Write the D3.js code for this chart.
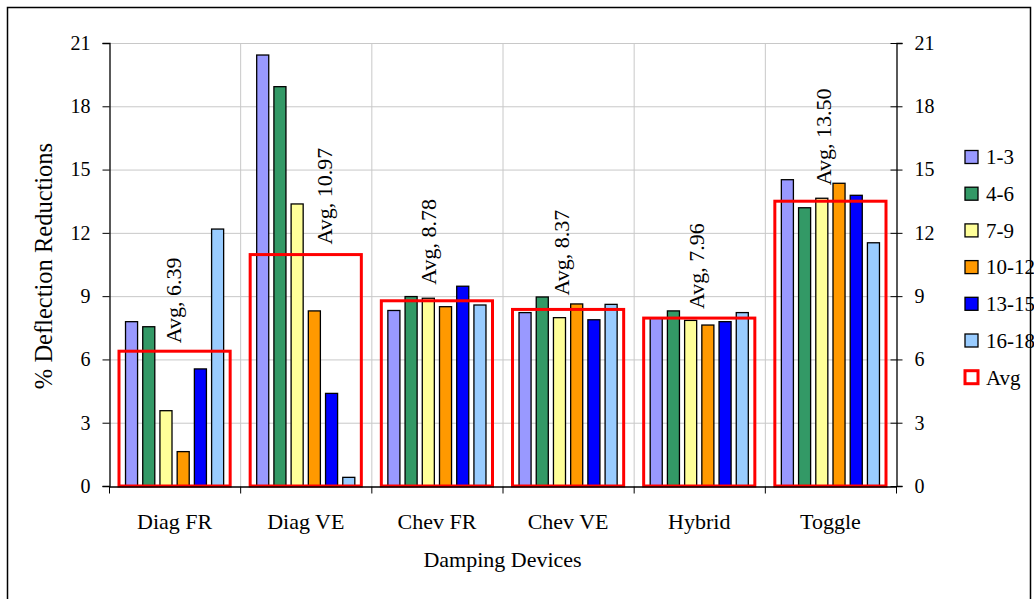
<!DOCTYPE html>
<html>
<head>
<meta charset="utf-8">
<script src="https://cdn.jsdelivr.net/npm/d3@7"></script>
<style>
  html, body { margin: 0; padding: 0; background: #fff; }
  svg { display: block; font-family: "Liberation Serif", "Times New Roman", serif; }
</style>
</head>
<body>
<svg id="chart" width="1034" height="599"></svg>
<script>
// ---- data ----
const categories = ["Diag FR", "Diag VE", "Chev FR", "Chev VE", "Hybrid", "Toggle"];
const seriesNames = ["1-3", "4-6", "7-9", "10-12", "13-15", "16-18"];
const s1_3   = [7.79, 20.43, 8.32, 8.22, 7.97, 14.52];
const s4_6   = [7.55, 18.93, 8.98, 8.96, 8.30, 13.19];
const s7_9   = [3.57, 13.37, 8.90, 7.98, 7.85, 13.64];
const s10_12 = [1.63, 8.30, 8.50, 8.63, 7.63, 14.35];
const s13_15 = [5.55, 4.39, 9.47, 7.88, 7.79, 13.78];
const s16_18 = [12.18, 0.41, 8.58, 8.61, 8.22, 11.53];
const avgValues = [6.39, 10.97, 8.78, 8.37, 7.96, 13.50];
const yTicks = [0, 3, 6, 9, 12, 15, 18, 21];

// ---- styling / layout ----
const seriesColors = ["#9999FF", "#339966", "#FFFF99", "#FF9900", "#0000FF", "#99CCFF"];
const allSeries = [s1_3, s4_6, s7_9, s10_12, s13_15, s16_18];
// label nudges (pixels) for the rotated "Avg" labels: [dx, gap above box]
const avgLabelNudge = [[-1, 8], [19, 10], [-8, 16], [-7, 14], [-3, 9], [-7, 16]];

const svg = d3.select("#chart");
const plot = { left: 109, right: 896, top: 43, bottom: 486 };

// outer frame
svg.append("rect")
  .attr("x", 7.5).attr("y", 7.5).attr("width", 1023).attr("height", 700)
  .attr("fill", "none").attr("stroke", "#000").attr("stroke-width", 1.5);

const x = d3.scaleBand().domain(categories).range([plot.left, plot.right]).padding(0);
const xs = d3.scaleBand().domain(seriesNames).range([0, x.bandwidth()])
  .paddingInner(0.3).paddingOuter(0.96);
const y = d3.scaleLinear().domain([0, 21]).range([plot.bottom, plot.top]);

// gridlines
const grid = svg.append("g");
grid.selectAll("line.h").data(yTicks.filter(t => t > 0)).join("line")
  .attr("x1", plot.left).attr("x2", plot.right)
  .attr("y1", d => y(d) + 0.5).attr("y2", d => y(d) + 0.5)
  .attr("stroke", "#c8c8c8").attr("stroke-width", 1);
grid.selectAll("line.v").data(categories.slice(1)).join("line")
  .attr("x1", d => x(d) + 0.5).attr("x2", d => x(d) + 0.5)
  .attr("y1", plot.top).attr("y2", plot.bottom)
  .attr("stroke", "#c8c8c8").attr("stroke-width", 1);

// bars
const barRows = [];
categories.forEach((c, ci) => {
  seriesNames.forEach((s, si) => barRows.push({ c, s, si, v: allSeries[si][ci] }));
});
svg.append("g").selectAll("rect").data(barRows).join("rect")
  .attr("x", d => x(d.c) + xs(d.s))
  .attr("y", d => y(d.v))
  .attr("width", xs.bandwidth())
  .attr("height", d => y(0) - y(d.v))
  .attr("fill", d => seriesColors[d.si])
  .attr("stroke", "#000").attr("stroke-width", 1.3);

// avg boxes
const inset = 10;
svg.append("g").selectAll("rect").data(categories).join("rect")
  .attr("x", d => x(d) + inset)
  .attr("y", (d, i) => y(avgValues[i]))
  .attr("width", x.bandwidth() - 2 * inset)
  .attr("height", (d, i) => y(0) - y(avgValues[i]))
  .attr("fill", "none").attr("stroke", "#FF0000").attr("stroke-width", 3);

// avg labels
svg.append("g").selectAll("text").data(categories).join("text")
  .attr("transform", (d, i) => {
    const cx = x(d) + x.bandwidth() / 2 + avgLabelNudge[i][0];
    const cy = y(avgValues[i]) - avgLabelNudge[i][1];
    return `translate(${cx},${cy}) rotate(-90)`;
  })
  .attr("dy", "0.34em")
  .attr("text-anchor", "start")
  .attr("font-size", 22)
  .attr("fill", "#000")
  .text((d, i) => `Avg, ${avgValues[i].toFixed(2)}`);

// axes
const yAxisL = d3.axisLeft(y).tickValues(yTicks).tickSize(7).tickPadding(12).tickFormat(d3.format("d"));
const gL = svg.append("g").attr("transform", `translate(${plot.left + 0.5},0)`).call(yAxisL);
const yAxisR = d3.axisRight(y).tickValues(yTicks).tickSize(6).tickPadding(12).tickFormat(d3.format("d"));
const gR = svg.append("g").attr("transform", `translate(${plot.right + 0.5},0)`).call(yAxisR);
gR.selectAll(".tick line").attr("x1", -6);
[gL, gR].forEach(g => {
  g.select(".domain").attr("stroke", "#000").attr("stroke-width", 1.3);
  g.selectAll(".tick line").attr("stroke", "#000");
  g.selectAll(".tick text").attr("font-size", 20).attr("font-family", "Liberation Serif").attr("fill", "#000");
});

const xAxis = d3.axisBottom(x).tickSize(0).tickPadding(0);
const gX = svg.append("g").attr("transform", `translate(0,${plot.bottom + 0.5})`).call(xAxis);
gX.select(".domain").attr("stroke", "#000").attr("stroke-width", 1.3);
gX.selectAll(".tick text").attr("font-size", 22).attr("font-family", "Liberation Serif")
  .attr("fill", "#000").attr("dy", null).attr("y", 42);
// category boundary ticks
gX.selectAll("line.bound").data(categories.concat(["__end"])).join("line")
  .attr("class", "bound")
  .attr("x1", (d, i) => (i < categories.length ? x(d) : plot.right) + 0.5)
  .attr("x2", (d, i) => (i < categories.length ? x(d) : plot.right) + 0.5)
  .attr("y1", 0).attr("y2", 7)
  .attr("stroke", "#000").attr("stroke-width", 1);

// axis titles
svg.append("text")
  .attr("x", (plot.left + plot.right) / 2).attr("y", 567)
  .attr("text-anchor", "middle").attr("font-size", 22).attr("fill", "#000")
  .text("Damping Devices");
svg.append("text")
  .attr("transform", `translate(52,266) rotate(-90)`)
  .attr("text-anchor", "middle").attr("font-size", 24.5).attr("fill", "#000")
  .text("% Deflection Reductions");

// legend
const legendItems = seriesNames.map((s, i) => ({ name: s, color: seriesColors[i], avg: false }))
  .concat([{ name: "Avg", color: "none", avg: true }]);
const lg = svg.append("g").attr("transform", "translate(965,157)");
const li = lg.selectAll("g").data(legendItems).join("g")
  .attr("transform", (d, i) => `translate(0,${i * 36.7})`);
li.append("rect")
  .attr("x", 0).attr("y", -6.5).attr("width", 13).attr("height", 13)
  .attr("fill", d => d.avg ? "#fff" : d.color)
  .attr("stroke", d => d.avg ? "#FF0000" : "#000")
  .attr("stroke-width", d => d.avg ? 3 : 1.3);
li.append("text")
  .attr("x", 21).attr("dy", "0.35em")
  .attr("font-size", 21).attr("fill", "#000")
  .text(d => d.name);
</script>
</body>
</html>
